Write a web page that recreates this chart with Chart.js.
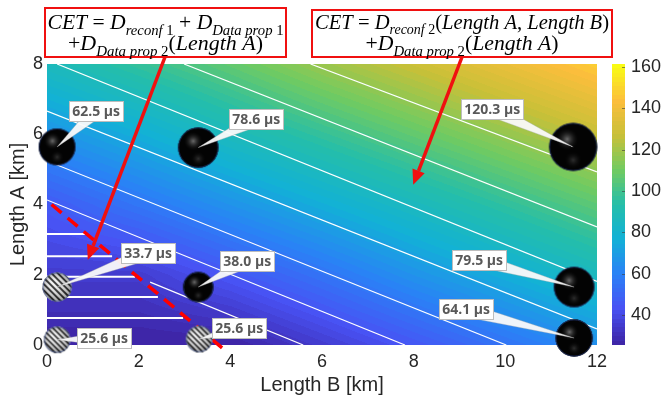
<!DOCTYPE html>
<html>
<head>
<meta charset="utf-8">
<script src="https://cdn.jsdelivr.net/npm/chart.js@4.4.1/dist/chart.umd.min.js"></script>
<style>
  html, body { margin: 0; padding: 0; background: #fff; }
</style>
</head>
<body>
<canvas id="cet" width="662" height="405"></canvas>
<script>
// ---- values ----
const gridB = [0, 2, 4, 6, 8, 10, 12];   // Length B [km]
const gridA = [0, 2, 4, 6, 8];           // Length A [km]
const gridCET = [                        // CET [µs], one row per Length A
  [25, 25, 25, 35, 45, 55, 65],
  [35, 35, 45, 55, 66, 76, 86],
  [46, 56, 66, 76, 86, 96, 106],
  [66, 76, 87, 97, 107, 117, 127],
  [87, 97, 107, 118, 128, 138, 148]
];

// measured configurations
const pointB = [0.22, 3.30, 11.48, 0.22, 3.30, 11.50, 0.22, 3.32, 11.50];
const pointA = [5.64, 5.62, 5.64, 1.65, 1.65, 1.65, 0.15, 0.17, 0.20];
const pointCET = [62.5, 78.6, 120.3, 33.7, 38.0, 79.5, 25.6, 25.6, 64.1];
const pointFormula1 = [false, false, false, true, false, false, true, true, false];

// white contour lines (start / end, km)
const contourFrom = [[5.75, 8.0], [2.99, 8.0], [0.22, 8.0], [0, 6.66], [0, 5.24], [0, 4.13], [2.25, 1.79]];
const contourTo = [[12, 4.93], [12, 3.36], [12, 1.81], [12, 0.46], [10.02, 0], [7.81, 0], [5.59, 0]];
// flat contours of the first formula (Length A level, end at Length B)
const flatA = [0.77, 1.37, 1.94, 2.53, 3.16];
const flatEndB = [2.97, 2.42, 1.92, 1.42, 0.83];
// red dashed boundary
const boundaryB = [0.1, 3.82];
const boundaryA = [4.0, -0.08];

const xTicks = [0, 2, 4, 6, 8, 10, 12];
const yTicks = [0, 2, 4, 6, 8];
const cbTicks = [40, 60, 80, 100, 120, 140, 160];
const cbMin = 25.5, cbMax = 161.5;

// ---- styling ----
const textColor = '#262626';
const sansFont = '"Liberation Sans", Arial, sans-serif';
const parulaStops = [
  [0.000, [62, 38, 168]],
  [0.125, [72, 82, 244]],
  [0.250, [42, 130, 246]],
  [0.375, [18, 177, 214]],
  [0.500, [36, 190, 170]],
  [0.625, [113, 203, 97]],
  [0.750, [200, 192, 56]],
  [0.875, [252, 190, 60]],
  [1.000, [249, 251, 21]]
];
// label box offset from each sphere centre, px
const labelOffset = [[39, -35], [58, -28], [-81, -37], [91, -34], [49, -26], [-95, -27], [47, -1], [40, -11], [-108, -28]];

function parula(v) {
  let t = Math.min(1, Math.max(0, (v - cbMin) / (cbMax - cbMin)));
  t = Math.min(63, Math.floor(t * 64)) / 63; // 64-entry map like MATLAB
  let k = 0;
  while (k < parulaStops.length - 2 && t > parulaStops[k + 1][0]) k++;
  const [t0, c0] = parulaStops[k], [t1, c1] = parulaStops[k + 1];
  const f = (t - t0) / (t1 - t0);
  return [0, 1, 2].map(i => Math.round(c0[i] + (c1[i] - c0[i]) * f));
}

function cellIndex(arr, v) {
  let i = 0;
  while (i < arr.length - 2 && v > arr[i + 1]) i++;
  return i;
}

function sampleGrid(b, a) {
  const i = cellIndex(gridB, b), j = cellIndex(gridA, a);
  const tx = Math.min(1, Math.max(0, (b - gridB[i]) / (gridB[i + 1] - gridB[i])));
  const ty = Math.min(1, Math.max(0, (a - gridA[j]) / (gridA[j + 1] - gridA[j])));
  return gridCET[j][i] * (1 - tx) * (1 - ty) + gridCET[j][i + 1] * tx * (1 - ty) +
    gridCET[j + 1][i] * (1 - tx) * ty + gridCET[j + 1][i + 1] * tx * ty;
}

function sphereRadius(v) {
  return 4 + 1.83 * Math.sqrt(v);
}

function makeSphere(r, hatched) {
  const s = Math.ceil(2 * r + 4);
  const c = document.createElement('canvas');
  c.width = c.height = s;
  const g = c.getContext('2d');
  const m = s / 2;
  g.save();
  g.beginPath();
  g.arc(m, m, r, 0, Math.PI * 2);
  g.clip();
  if (hatched) {
    g.fillStyle = '#f6f6f6';
    g.fillRect(0, 0, s, s);
    g.save();
    g.translate(m, m);
    g.rotate(-Math.PI / 4);
    g.strokeStyle = '#111';
    g.lineWidth = Math.max(1.6, r * 0.13);
    const step = r * 0.3;
    for (let k = -2 * r; k <= 2 * r; k += step) {
      g.beginPath();
      g.moveTo(k, -2 * r);
      g.lineTo(k, 2 * r);
      g.stroke();
    }
    g.restore();
    const sh = g.createRadialGradient(m - 0.3 * r, m - 0.3 * r, 0.1 * r, m, m, r * 1.1);
    sh.addColorStop(0, 'rgba(255,255,255,0.15)');
    sh.addColorStop(1, 'rgba(0,0,0,0.4)');
    g.fillStyle = sh;
    g.fillRect(0, 0, s, s);
  } else {
    g.fillStyle = '#030303';
    g.fillRect(0, 0, s, s);
    const hl = g.createRadialGradient(m - 0.25 * r, m - 0.32 * r, 0, m - 0.25 * r, m - 0.32 * r, 0.5 * r);
    hl.addColorStop(0, 'rgba(120,120,120,0.9)');
    hl.addColorStop(1, 'rgba(0,0,0,0)');
    g.fillStyle = hl;
    g.fillRect(0, 0, s, s);
    const lo = g.createRadialGradient(m, m + 0.55 * r, 0, m, m + 0.55 * r, 0.4 * r);
    lo.addColorStop(0, 'rgba(70,70,70,0.65)');
    lo.addColorStop(1, 'rgba(0,0,0,0)');
    g.fillStyle = lo;
    g.fillRect(0, 0, s, s);
  }
  g.restore();
  g.beginPath();
  g.arc(m, m, r - 0.5, 0, Math.PI * 2);
  g.strokeStyle = hatched ? 'rgba(70,90,150,0.7)' : 'rgba(30,45,95,0.9)';
  g.lineWidth = 1;
  g.stroke();
  return c;
}

const sphereImages = pointCET.map((v, i) => makeSphere(sphereRadius(v), pointFormula1[i]));

// ---- red formula boxes ----
const line2 = [['+', 'n'], ['D', 'i'], ['Data prop', 'si'], [' 2', 'sn'], ['(', 'n'], ['Length A', 'i'], [')', 'n']];
const notes = [
  {
    box: [45, 8, 286, 57],
    lines: [
      [[['CET', 'i'], [' = ', 'n'], ['D', 'i'], ['reconf', 'si'], [' 1', 'sn'], [' + ', 'n'], ['D', 'i'], ['Data prop', 'si'], [' 1', 'sn']], 29, 236],
      [line2, 50, 195]
    ],
    tail: [165, 57], tip: [0.89, 2.42]
  },
  {
    box: [312, 10, 612, 57],
    lines: [
      [[['CET', 'i'], [' = ', 'n'], ['D', 'i'], ['reconf', 'si'], [' 2', 'sn'], ['(', 'n'], ['Length A', 'i'], [', ', 'n'], ['Length B', 'i'], [')', 'n']], 29, 294],
      [line2, 50, 193]
    ],
    tail: [462, 57], tip: [7.99, 4.56]
  }
];

function partFont(kind, s) {
  const size = kind[0] === 's' ? s * 0.68 : s;
  const italic = kind.endsWith('i') ? 'italic ' : '';
  return italic + size.toFixed(2) + 'px "Liberation Serif", "DejaVu Serif", serif';
}

function drawRich(ctx, parts, cx, base, targetW) {
  const widthAt = s => parts.reduce((w, p) => {
    ctx.font = partFont(p[1], s);
    return w + ctx.measureText(p[0]).width;
  }, 0);
  const s = 20 * targetW / widthAt(20);
  let x = cx - targetW / 2;
  ctx.fillStyle = '#000';
  ctx.textBaseline = 'alphabetic';
  ctx.textAlign = 'left';
  parts.forEach(p => {
    ctx.font = partFont(p[1], s);
    const dy = p[1][0] === 's' ? s * 0.26 : 0;
    ctx.fillText(p[0], x, base + dy);
    x += ctx.measureText(p[0]).width;
  });
}

function drawArrow(ctx, x0, y0, x1, y1) {
  const ang = Math.atan2(y1 - y0, x1 - x0);
  const head = 15, half = 6.5;
  const bx = x1 - Math.cos(ang) * head, by = y1 - Math.sin(ang) * head;
  ctx.strokeStyle = '#f01010';
  ctx.fillStyle = '#f01010';
  ctx.lineWidth = 3.5;
  ctx.beginPath();
  ctx.moveTo(x0, y0);
  ctx.lineTo(bx, by);
  ctx.stroke();
  ctx.beginPath();
  ctx.moveTo(x1, y1);
  ctx.lineTo(bx + Math.sin(ang) * half, by - Math.cos(ang) * half);
  ctx.lineTo(bx - Math.sin(ang) * half, by + Math.cos(ang) * half);
  ctx.closePath();
  ctx.fill();
}

// ---- plugins ----
const surfacePlugin = {
  id: 'surface',
  beforeDatasetsDraw(chart) {
    const { ctx, chartArea: a, scales: { x, y, cb } } = chart;
    const w = Math.round(a.right - a.left), h = Math.round(a.bottom - a.top);
    const img = ctx.createImageData(w, h);
    for (let j = 0; j < h; j++) {
      const A = y.getValueForPixel(a.top + j + 0.5);
      for (let i = 0; i < w; i++) {
        const c = parula(sampleGrid(x.getValueForPixel(a.left + i + 0.5), A));
        const k = (j * w + i) * 4;
        img.data[k] = c[0]; img.data[k + 1] = c[1]; img.data[k + 2] = c[2]; img.data[k + 3] = 255;
      }
    }
    ctx.putImageData(img, Math.round(a.left), Math.round(a.top));

    // colour bar
    const barX = cb.left + 15, barW = 13;
    for (let py = Math.round(cb.top); py < Math.round(cb.bottom); py++) {
      const c = parula(cb.getValueForPixel(py + 0.5));
      ctx.fillStyle = `rgb(${c[0]},${c[1]},${c[2]})`;
      ctx.fillRect(barX, py, barW, 1);
    }
    ctx.strokeStyle = 'rgba(60,60,60,0.6)';
    ctx.lineWidth = 1;
    cbTicks.forEach(v => {
      const py = Math.round(cb.getPixelForValue(v)) + 0.5;
      ctx.beginPath();
      ctx.moveTo(barX + barW - 3, py);
      ctx.lineTo(barX + barW, py);
      ctx.stroke();
    });
  }
};

const labelPlugin = {
  id: 'labels',
  afterDatasetsDraw(chart) {
    const { ctx } = chart;
    const meta = chart.getDatasetMeta(chart.data.datasets.length - 1);
    ctx.save();
    meta.data.forEach((el, i) => {
      const tx = el.x, ty = el.y;
      const bx = tx + labelOffset[i][0], by = ty + labelOffset[i][1];
      const ang = Math.atan2(ty - by, tx - bx);
      const hw = 7;
      // callout wedge
      ctx.beginPath();
      ctx.moveTo(bx + Math.sin(ang) * hw, by - Math.cos(ang) * hw);
      ctx.lineTo(tx, ty);
      ctx.lineTo(bx - Math.sin(ang) * hw, by + Math.cos(ang) * hw);
      ctx.closePath();
      ctx.fillStyle = 'rgba(250,250,250,0.95)';
      ctx.fill();
      ctx.strokeStyle = 'rgba(170,170,170,0.6)';
      ctx.lineWidth = 0.6;
      ctx.stroke();
      // box
      const text = pointCET[i].toFixed(1) + ' µs';
      ctx.font = 'bold 14px "Open Sans", ' + sansFont;
      const w = ctx.measureText(text).width + 7, h = 21;
      ctx.fillStyle = '#fff';
      ctx.fillRect(Math.round(bx - w / 2), Math.round(by - h / 2), Math.round(w), h);
      ctx.strokeStyle = '#bdbdbd';
      ctx.lineWidth = 1;
      ctx.strokeRect(Math.round(bx - w / 2) + 0.5, Math.round(by - h / 2) + 0.5, Math.round(w) - 1, h - 1);
      ctx.fillStyle = '#595959';
      ctx.textAlign = 'center';
      ctx.textBaseline = 'middle';
      ctx.fillText(text, bx, by + 0.5);
    });
    ctx.restore();
  },
  afterDraw(chart) {
    const { ctx, scales: { x, y } } = chart;
    ctx.save();
    notes.forEach(n => {
      drawArrow(ctx, n.tail[0], n.tail[1], x.getPixelForValue(n.tip[0]), y.getPixelForValue(n.tip[1]));
      const [x0, y0, x1, y1] = n.box;
      ctx.fillStyle = '#fff';
      ctx.fillRect(x0, y0, x1 - x0, y1 - y0);
      ctx.strokeStyle = '#f01010';
      ctx.lineWidth = 2;
      ctx.strokeRect(x0, y0, x1 - x0, y1 - y0);
      n.lines.forEach(([parts, base, w]) => drawRich(ctx, parts, (x0 + x1) / 2, base, w));
    });
    ctx.restore();
  }
};

// ---- datasets ----
const contourSets = contourFrom.map((p, i) => ({
  type: 'line',
  data: [{ x: p[0], y: p[1] }, { x: contourTo[i][0], y: contourTo[i][1] }],
  borderColor: '#ffffff', borderWidth: 1.2, pointRadius: 0, order: 3
}));
const flatSets = flatA.map((a, i) => ({
  type: 'line',
  data: [{ x: 0, y: a }, { x: flatEndB[i], y: a }],
  borderColor: '#ffffff', borderWidth: 2, pointRadius: 0, order: 3
}));
const boundarySet = {
  type: 'line',
  data: boundaryB.map((b, i) => ({ x: b, y: boundaryA[i] })),
  borderColor: '#ff0000', borderWidth: 3.5, borderDash: [13, 8], pointRadius: 0,
  order: 2, clip: { left: 5, top: 5, right: 5, bottom: 8 }
};
const sphereSet = {
  type: 'scatter',
  data: pointB.map((b, i) => ({ x: b, y: pointA[i] })),
  pointStyle: ctx => sphereImages[ctx.dataIndex],
  pointRadius: ctx => sphereRadius(pointCET[ctx.dataIndex]),
  order: 0, clip: false
};

const tickFont = { family: sansFont, size: 18 };
const titleFont = { family: sansFont, size: 20 };

new Chart(document.getElementById('cet'), {
  type: 'scatter',
  data: { datasets: [...contourSets, ...flatSets, boundarySet, sphereSet] },
  options: {
    responsive: false,
    animation: false,
    devicePixelRatio: 1,
    events: [],
    layout: { padding: { top: 64, left: 0, right: 0, bottom: 0 } },
    plugins: { legend: { display: false }, tooltip: { enabled: false } },
    scales: {
      x: {
        type: 'linear', min: 0, max: 12,
        afterBuildTicks: s => { s.ticks = xTicks.map(v => ({ value: v })); },
        ticks: { color: textColor, font: tickFont, padding: 6, maxRotation: 0, autoSkip: false },
        grid: { display: false, drawTicks: false },
        border: { display: false },
        title: { display: true, text: 'Length B [km]', color: textColor, font: titleFont, padding: { top: 0, bottom: 8 } },
        afterFit: s => { s.height = 60; }
      },
      y: {
        type: 'linear', min: 0, max: 8,
        afterBuildTicks: s => { s.ticks = yTicks.map(v => ({ value: v })); },
        ticks: { color: textColor, font: tickFont, padding: 4, autoSkip: false },
        grid: { display: false, drawTicks: false },
        border: { display: false },
        title: { display: true, text: 'Length A [km]', color: textColor, font: titleFont, padding: { top: 6, bottom: 0 } },
        afterFit: s => { s.width = 47; }
      },
      cb: {
        type: 'linear', position: 'right', min: cbMin, max: cbMax,
        afterBuildTicks: s => { s.ticks = cbTicks.map(v => ({ value: v })); },
        ticks: { color: textColor, font: tickFont, padding: 34, autoSkip: false },
        grid: { display: false, drawTicks: false },
        border: { display: false },
        afterFit: s => { s.width = 65; }
      }
    }
  },
  plugins: [surfacePlugin, labelPlugin]
});
</script>
</body>
</html>
